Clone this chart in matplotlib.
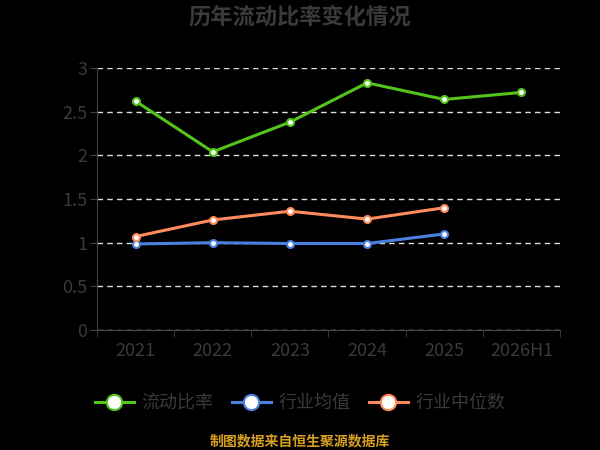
import matplotlib.pyplot as plt

plt.rcParams['font.family'] = ['Noto Sans CJK SC', 'DejaVu Sans']

years = ['2021', '2022', '2023', '2024', '2025', '2026H1']
current_ratio = [2.62, 2.04, 2.38, 2.83, 2.64, 2.72]
industry_mean = [0.985, 1.00, 0.99, 0.99, 1.10]
industry_median = [1.07, 1.26, 1.36, 1.27, 1.40]

text_color = '#3a3a3a'

fig = plt.figure(figsize=(6, 4.5), dpi=100, facecolor='black')
ax = fig.add_axes([97 / 600, 120 / 450, 463 / 600, 262 / 450], facecolor='black')

x = list(range(len(years)))
series = [
    (current_ratio, '#52c41a', '流动比率'),
    (industry_mean, '#4a80e0', '行业均值'),
    (industry_median, '#ff8a5b', '行业中位数'),
]
for vals, color, name in series:
    ax.plot(x[:len(vals)], vals, color=color, lw=2.2, marker='o', ms=5,
            mfc='white', mec=color, mew=1.5, label=name, zorder=3)

ax.set_xlim(-0.5, len(years) - 0.5)
ax.set_ylim(0, 3)
ax.set_yticks([0, 0.5, 1, 1.5, 2, 2.5, 3])
ax.set_yticklabels(['0', '0.5', '1', '1.5', '2', '2.5', '3'])
ax.set_xticks(x)
ax.set_xticklabels(years)
ax.set_xticks([i - 0.5 for i in range(len(years) + 1)], minor=True)
ax.tick_params(axis='x', which='major', length=0, pad=9, labelsize=13, colors=text_color)
ax.tick_params(axis='x', which='minor', length=5, color='#444444')
ax.tick_params(axis='y', length=5, color='#444444', labelsize=13, colors=text_color, pad=2)

ax.grid(axis='y', color='#dddddd', ls=(0, (4, 3)), lw=1)
for s in ['top', 'right']:
    ax.spines[s].set_visible(False)
ax.spines['left'].set_color('#444444')
ax.spines['bottom'].set_color('#444444')

fig.text(0.5, 1 - 17 / 450, '历年流动比率变化情况', ha='center', va='center',
         fontsize=16, fontweight='bold', color=text_color)

leg = fig.legend(loc='center', bbox_to_anchor=(0.5, 1 - 403 / 450), ncol=3,
                 frameon=False, fontsize=13, markerscale=2.2, handlelength=2.2,
                 columnspacing=1.0, handletextpad=0.4)
for t in leg.get_texts():
    t.set_color(text_color)

fig.text(0.5, 1 - 441 / 450, '制图数据来自恒生聚源数据库', ha='center', va='center',
         fontsize=10, color='#d9a020', fontweight='bold')

fig.savefig('out.png', dpi=100, facecolor='black')
